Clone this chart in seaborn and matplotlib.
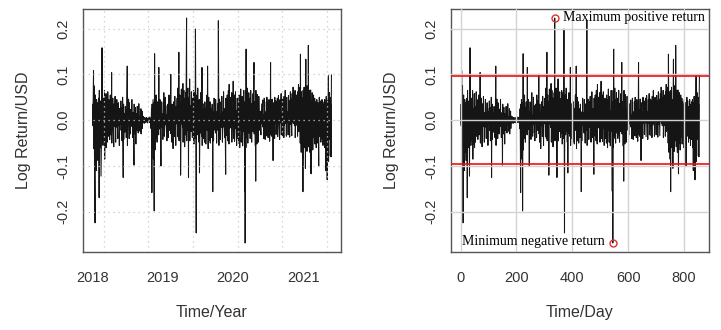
import numpy as np
import pandas as pd
import matplotlib
matplotlib.use("Agg")
import matplotlib.pyplot as plt
import matplotlib.dates as mdates
import seaborn as sns
from pandas.tseries.holiday import USFederalHolidayCalendar

# ---- data: daily log returns (in thousandths, i.e. 0.001 units) ----
ret_milli = [
    -12, 35, -8, 108, -62, 40, 75, -30, -224, 18, 55, -95, 28, -110, 45, -20, 12, -70, 38, -88,
    10, -30, 48, -169, 65, -15, 30, -60, 8, 42, -35, -122, 20, 158, -40, 15, -55, 32, -10, 48,
    -45, 12, 65, -85, 8, -52, 25, -12, 58, -60, 18, 5, -48, 30, -8, 62, -35, 10, 45, -15,
    4, -42, 28, -10, 55, -32, 6, 40, -8, 104, -50, 12, -18, 48, -5, 14, -58, 20, -12, 36,
    -14, 52, -6, 10, -48, 16, 3, -15, 45, -9, 6, -40, 14, -4, 38, -12, 26, -55, 10, -3,
    18, -8, 42, -22, 5, 28, -45, 8, -10, 50, -125, 10, 35, -42, 6, -9, 15, -26, 4, 30,
    -6, 22, -38, 10, -4, 118, -55, 18, -10, 46, -8, 5, -40, 38, -15, 12, 3, -30, 24, -5,
    12, -10, 45, -14, 6, -38, 16, -4, 8, -98, 35, -11, 5, -30, 28, -6, 10, -52, 14, -3,
    7, -22, 30, -8, 4, -28, 11, -5, 36, -10, 3, -24, 8, -4, 25, -30, 5, -7, 20, -18,
    4, -6, 9, -3, 7, -5, 2, -7, 6, -4, 2, -5, 4, -2, 6, -4, 3, -6, 3, -2,
    5, -3, 2, -5, 7, -4, 2, -3, 5, -6, 3, -18, 25, -40, -158, 35, -60, 45, -25, -85,
    38, -198, -50, 145, -65, 30, -40, 20, 55, -28, 15, -48, 28, -15, 40, -22, 12, -32, 115, -18,
    25, -12, 45, -20, 10, -100, 18, -8, 40, -16, 6, -42, 14, -5, 60, -11, 4, -35, 12, -3,
    50, -10, 32, -28, 8, -45, 12, -6, 35, -4, 10, -38, 55, -12, 5, -22, 42, -8, 15, 100,
    -30, 12, -48, 35, -6, 16, -62, 8, -12, 40, -10, 5, -36, 52, -4, 14, -55, 30, -8, 12,
    -5, 48, 12, -35, 70, 6, -40, 18, 148, -45, 15, 55, -12, 40, 5, -120, 26, 68, -8, 18,
    32, -16, 55, 80, -48, 22, 65, -38, 14, 48, -58, 28, 10, -32, 60, 18, 223, -45, 40, -12,
    35, 70, -22, 25, -125, 50, -35, 18, 90, -45, 32, 12, -25, 42, 62, -18, 28, -38, 15, 48,
    -28, 65, 18, -52, 35, -15, 60, -40, 25, 199, -60, -246, 40, -22, 55, -32, 18, 70, -25, 12,
    30, -48, 45, -115, 15, 32, -28, 60, -12, 50, -35, 18, 115, -55, 10, 36, -15, 25, -40, 14,
    24, -48, 12, 40, -18, 8, -52, 26, -10, 16, 55, -22, 6, 118, -62, 18, -12, 50, -45, 8,
    -12, 40, -50, 14, -8, 25, -38, 6, 35, -15, 10, -156, 18, -45, 15, -6, 48, -12, 4, -22,
    16, -28, 45, -14, 5, -50, 18, -4, 36, -22, 8, 217, -55, 15, -18, 46, -10, 6, -42, 12,
    -5, 40, -16, 52, -8, 12, -48, 18, -4, 62, -15, 8, -38, 25, -12, 5, -118, 48, -18, 10,
    -34, 55, -6, 18, -45, 65, -10, 15, -52, 78, -18, 12, -8, 50, -16, 22, -5, 60, -48, 12,
    -10, 45, 85, -40, 12, -15, 55, -46, 8, -18, 62, -12, 22, -55, 16, -5, 48, -40, 10, -15,
    38, -50, 55, -8, 14, -60, 45, -16, 68, -22, 10, -48, 52, -12, 20, -56, 15, -25, 65, -18,
    30, -45, -155, 40, -268, 65, -60, 155, -40, 52, -25, 70, -32, 18, -50, 45, -18, 60, -28, 32,
    -22, 48, -40, 25, -15, 65, -32, 18, -48, 36, -12, 30, -25, 58, -8, 22, 126, -30, 40, -18,
    28, -56, 15, -133, 65, -12, 25, -52, 8, 56, -18, 12, -48, 22, -8, 52, -15, 6, -22, 18,
    6, -32, 20, 3, -8, 36, 7, -5, 44, -15, 11, 4, -40, 14, 48, -7, 9, -42, 18, 3,
    -6, 40, 11, -34, 50, 5, -9, 16, -38, 7, 45, -5, 12, -46, 9, 18, 126, -32, 22, 6,
    -35, 14, 46, -9, 7, -88, 38, 3, -32, 17, 9, -40, 50, 5, -7, 15, 42, -31, 6, 39,
    -5, 48, 9, -36, 14, 54, -7, 19, 5, -42, 11, 45, -6, 16, 58, -32, 7, 18, -9, 46,
    3, -34, 42, 9, -38, 52, 6, -11, 16, 65, -7, 12, 45, -35, 5, 50, -5, 19, 9, -32,
    18, 54, -6, 11, 42, -37, 7, 62, 14, -9, 46, 5, -34, 19, 58, -3, 11, 72, -7, 16,
    50, -12, 39, 6, 65, -38, 12, 46, -11, 55, 7, 42, -35, 62, 9, 78, -25, 38, 72, -22,
    70, 28, -50, 144, 40, -70, 62, -42, 50, -85, 30, -156, 65, -32, 72, -60, 45, -25, 38, -105,
    58, 133, -55, 42, -68, 75, -30, 50, -45, 163, 35, -58, 65, -22, 52, -70, 28, 66, -40, -117,
    38, -50, 60, -25, 45, -65, 18, 55, -38, 30, -18, 48, -52, 22, 40, -30, 15, -60, 35, -25,
    45, -15, 28, -50, 38, 20, -100, 32, -22, 50, -35, 14, 42, -26, 22, -48, 30, 18, -40, 45,
    -18, 35, -55, 28, 12, -42, 40, -30, 22, 45, -60, 18, -110, 38, -25, 52, -75, 30, -130, 42,
    -52, 28, 97, -90, 38, -42, 60, -30, 18, 50, -78, 35, -80, 42, 99,
]
start_date = "2018-01-03"
band_level = 0.0955           # red threshold lines (+/-)
year_ticks = ["2018", "2019", "2020", "2021"]
day_ticks = [0, 200, 400, 600, 800]
y_ticks = [-0.2, -0.1, 0.0, 0.1, 0.2]
grid_epoch_seconds = [1.52e9, 1.54e9, 1.56e9, 1.58e9, 1.60e9, 1.62e9]

returns = np.array(ret_milli, dtype=float) / 1000.0
n = len(returns)
bday = pd.offsets.CustomBusinessDay(calendar=USFederalHolidayCalendar())
dates = pd.date_range(start_date, periods=n, freq=bday)
days = np.arange(1, n + 1)
df = pd.DataFrame({"date": dates, "day": days, "ret": returns})

sns.set_style("white")
plt.rcParams["font.family"] = ["Liberation Sans", "DejaVu Sans"]

fig = plt.figure(figsize=(7.21, 3.30), dpi=100)
axL = fig.add_axes([83 / 721, (330 - 252) / 330, 258 / 721, 243 / 330])
axR = fig.add_axes([451 / 721, (330 - 252) / 330, 258 / 721, 243 / 330])

frame_c = "#555555"
text_c = "#333333"
line_c = "#151515"


def style(ax):
    for sp in ax.spines.values():
        sp.set_visible(True)
        sp.set_color(frame_c)
        sp.set_linewidth(1.0)
    ax.tick_params(axis="both", direction="out", length=6, width=0.9,
                   color=frame_c, labelcolor=text_c, labelsize=10.5)
    ax.tick_params(axis="x", pad=8)
    ax.tick_params(axis="y", pad=3, labelrotation=90)
    ax.set_yticks(y_ticks)
    ax.set_yticklabels([f"{v:.1f}" for v in y_ticks], va="center")
    ax.margins(x=0.04, y=0.04)


# ---- left: by year ----
sns.lineplot(data=df, x="date", y="ret", ax=axL, color=line_c, linewidth=0.75,
             estimator=None, sort=False)
axL.set_xticks([pd.Timestamp(f"{y}-01-01") for y in year_ticks])
axL.xaxis.set_major_formatter(mdates.DateFormatter("%Y"))
style(axL)
for v in y_ticks:
    axL.axhline(v, color="#c8c8c8", lw=0.9, ls=(0, (1, 3)), zorder=3)
for s in grid_epoch_seconds:
    axL.axvline(pd.to_datetime(s, unit="s"), color="#c8c8c8", lw=0.9, ls=(0, (1, 3)), zorder=3)
axL.set_xlabel("Time/Year", fontsize=11.5, color=text_c, va="center")
axL.set_ylabel("Log Return/USD", fontsize=11.5, color=text_c, va="center")
axL.xaxis.set_label_coords(0.5, -0.251)
axL.yaxis.set_label_coords(-0.232, 0.5)

# ---- right: by day index ----
sns.lineplot(data=df, x="day", y="ret", ax=axR, color=line_c, linewidth=0.75,
             estimator=None, sort=False)
axR.set_xticks(day_ticks)
axR.set_xticklabels([str(d) for d in day_ticks])
style(axR)
for v in y_ticks:
    axR.axhline(v, color="#d3d3d3", lw=1.0, zorder=3)
for d in day_ticks:
    axR.axvline(d, color="#d3d3d3", lw=1.0, zorder=3)
axR.axhline(band_level, color="#ee1111", lw=1.2, zorder=4)
axR.axhline(-band_level, color="#ee1111", lw=1.2, zorder=4)

imax = int(np.argmax(returns))
imin = int(np.argmin(returns))
axR.plot([days[imax]], [returns[imax]], marker="o", mfc="none", mec="#e03030",
         ms=5, mew=1.0, zorder=5)
axR.plot([days[imin]], [returns[imin]], marker="o", mfc="none", mec="#e03030",
         ms=5, mew=1.0, zorder=5)
serif = ["Liberation Serif", "DejaVu Serif"]
axR.annotate("Maximum positive return", (days[imax], returns[imax]),
             xytext=(6, 0), textcoords="offset points", ha="left", va="center",
             fontsize=10, family=serif, color="black")
axR.annotate("Minimum negative return", (days[imin], returns[imin]),
             xytext=(-6, 1), textcoords="offset points", ha="right", va="center",
             fontsize=10, family=serif, color="black")
axR.set_xlabel("Time/Day", fontsize=11.5, color=text_c, va="center")
axR.set_ylabel("Log Return/USD", fontsize=11.5, color=text_c, va="center")
axR.xaxis.set_label_coords(0.5, -0.251)
axR.yaxis.set_label_coords(-0.232, 0.5)

fig.savefig("out.png", dpi=100, facecolor="white")
